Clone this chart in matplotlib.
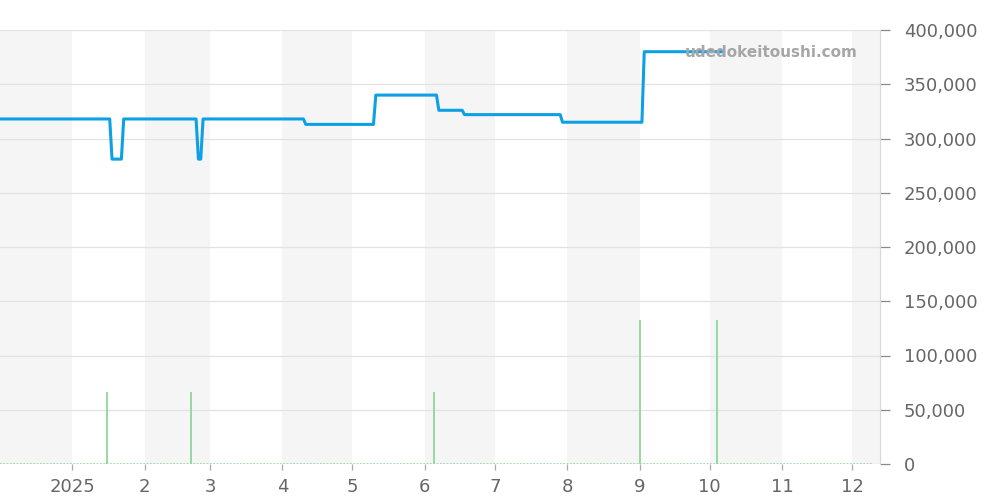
import matplotlib
matplotlib.use("Agg")
import matplotlib.pyplot as plt
import matplotlib.dates as mdates
import numpy as np
from datetime import datetime, timedelta
from matplotlib.ticker import FuncFormatter, MultipleLocator

# ---- data ----
price_dates = ["2024-12-01", "2025-01-17", "2025-01-18", "2025-01-22", "2025-01-23",
               "2025-02-23", "2025-02-24", "2025-02-25", "2025-02-26",
               "2025-04-10", "2025-04-11", "2025-05-10", "2025-05-11",
               "2025-06-06", "2025-06-07", "2025-06-17", "2025-06-18",
               "2025-07-29", "2025-07-30", "2025-09-02", "2025-09-03", "2025-10-06"]
price_values = [318000, 318000, 281000, 281000, 318000,
                318000, 281000, 281000, 318000,
                318000, 313000, 313000, 340000,
                340000, 326000, 326000, 322000,
                322000, 315000, 315000, 380000, 380000]

volume_dates = ["2025-01-16", "2025-02-21", "2025-06-05", "2025-09-01", "2025-10-04"]
volume_values = [66000, 66000, 66000, 133000, 133000]

baseline_dates = ["2024-12-01", "2025-12-10"]
baseline_values = [0, 0]

x_start = "2024-12-01"
x_end = "2025-12-13"
month_labels = ["2025", "2", "3", "4", "5", "6", "7", "8", "9", "10", "11", "12"]

# ---- plot ----
to_dt = lambda s: datetime.strptime(s, "%Y-%m-%d")
fig = plt.figure(figsize=(10, 5), dpi=100)
ax = fig.add_axes([0.0, 0.072, 0.88, 0.868])

xs, xe = to_dt(x_start), to_dt(x_end)
# alternating month shading
m = datetime(2024, 12, 1)
i = 0
while m < xe:
    nxt = datetime(m.year + (m.month // 12), m.month % 12 + 1, 1)
    if i % 2 == 0:
        ax.axvspan(m, nxt, color="#f5f5f5", zorder=0, lw=0)
    m = nxt
    i += 1

ax.plot([to_dt(d) for d in baseline_dates], baseline_values, color="#8fd69b",
        lw=1.2, ls=(0, (1, 1)), zorder=2)
ax.vlines([to_dt(d) for d in volume_dates], 0, volume_values, color="#8fd69b",
          lw=1.3, zorder=2)
ax.plot([to_dt(d) for d in price_dates], price_values, color="#0ea0e4",
        lw=2.2, zorder=3)

ax.set_xlim(xs, xe)
ax.set_ylim(0, 400000)
ax.yaxis.tick_right()
ax.yaxis.set_major_locator(MultipleLocator(50000))
ax.yaxis.set_major_formatter(FuncFormatter(lambda v, p: f"{int(v):,}"))
ax.grid(axis="y", color="#e2e2e2", lw=0.9, zorder=1)
ax.set_axisbelow(True)

ticks = [datetime(2025, k, 1) for k in range(1, 13)]
ax.set_xticks(ticks)
ax.set_xticklabels(month_labels)

for s in ["left", "top", "bottom"]:
    ax.spines[s].set_visible(False)
ax.spines["right"].set_color("#d8d8d8")
ax.tick_params(axis="y", colors="#888888", labelcolor="#666666", labelsize=13,
               length=7, pad=10, width=0.9)
ax.tick_params(axis="x", colors="#aaaaaa", labelcolor="#666666", labelsize=13,
               length=4, pad=6, width=0.9)

ax.text(0.975, 0.948, "udedokeitoushi.com", transform=ax.transAxes, ha="right",
        va="center", fontsize=11, fontweight="bold", color="#a6a6a6", zorder=4)

fig.savefig("out.png", dpi=100)
